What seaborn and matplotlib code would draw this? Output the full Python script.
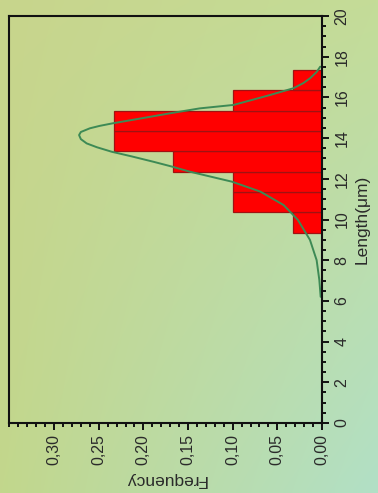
import numpy as np
import pandas as pd
import matplotlib
matplotlib.use("Agg")
import matplotlib.pyplot as plt
from matplotlib.ticker import FixedLocator, MultipleLocator, FixedFormatter
import seaborn as sns

# ---- data ----
bin_edges = [9.35, 10.35, 11.35, 12.35, 13.35, 14.35, 15.35, 16.35, 17.35]
bin_centers = [9.85, 10.85, 11.85, 12.85, 13.85, 14.85, 15.85, 16.85]
bin_freq = [0.033, 0.100, 0.100, 0.167, 0.233, 0.233, 0.100, 0.033]

# fitted curve, points (length, frequency)
curve_len = [6.2, 7.03, 8.0, 9.0, 9.98, 10.35, 10.71, 11.37, 11.6, 11.86, 12.35, 12.6,
             12.84, 13.1, 13.33, 13.55, 13.74, 13.95, 14.15, 14.3, 14.48, 14.6, 14.73,
             14.95, 15.22, 15.46, 15.63, 15.88, 16.12, 16.45, 16.7, 16.94, 17.25, 17.51]
curve_freq = [0.0015, 0.003, 0.006, 0.0135, 0.027, 0.035, 0.043, 0.069, 0.084, 0.101,
              0.148, 0.168, 0.189, 0.213, 0.2355, 0.252, 0.2635, 0.270, 0.272, 0.270,
              0.260, 0.249, 0.234, 0.205, 0.170, 0.137, 0.099, 0.078, 0.058, 0.032,
              0.021, 0.0134, 0.006, 0.002]

freq_ticks = [0.00, 0.05, 0.10, 0.15, 0.20, 0.25, 0.30]
freq_labels = ["0,00", "0,05", "0,10", "0,15", "0,20", "0,25", "0,30"]
len_ticks = [0, 2, 4, 6, 8, 10, 12, 14, 16, 18, 20]
len_labels = ["0", "2", "4", "6", "8", "10", "12", "14", "16", "18", "20"]

hist_df = pd.DataFrame({"length": bin_centers, "freq": bin_freq})
curve_df = pd.DataFrame({"length": curve_len, "freq": curve_freq})

sns.set_style("white")
plt.rcParams["font.family"] = ["Liberation Sans", "DejaVu Sans"]
plt.rcParams["lines.solid_joinstyle"] = "round"

W, H = 378, 493
fig = plt.figure(figsize=(W / 100, H / 100), dpi=100)

# background gradient
bg = fig.add_axes([0, 0, 1, 1], zorder=-10)
tl = np.array([200, 213, 140]) / 255
tr = np.array([196, 220, 152]) / 255
bl = np.array([194, 215, 140]) / 255
br = np.array([178, 224, 198]) / 255
yy, xx = np.mgrid[0:1:100j, 0:1:100j]
img = (tl[None, None, :] * ((1 - xx) * (1 - yy))[..., None]
       + tr[None, None, :] * (xx * (1 - yy))[..., None]
       + bl[None, None, :] * ((1 - xx) * yy)[..., None]
       + br[None, None, :] * (xx * yy)[..., None])
bg.imshow(img, aspect="auto", extent=[0, 1, 0, 1], origin="upper", interpolation="bilinear")
bg.set_axis_off()

ax = fig.add_axes([9.4 / W, (H - 423) / H, (322 - 9.4) / W, (423 - 16) / H])
ax.set_facecolor("none")

sns.histplot(data=hist_df, y="length", weights="freq", bins=bin_edges, stat="count",
             color="#ff0000", alpha=1.0, edgecolor="#a01212", linewidth=0.9, ax=ax)
sns.lineplot(data=curve_df, x="freq", y="length", sort=False, estimator=None,
             orient="y", color="#3d8a55", linewidth=1.4, ax=ax)

ax.set_xlim(0.35, 0.0)
ax.set_ylim(0, 20)

ax.yaxis.tick_right()
ax.yaxis.set_label_position("right")
ax.xaxis.set_major_locator(FixedLocator(freq_ticks))
ax.xaxis.set_major_formatter(FixedFormatter(freq_labels))
ax.xaxis.set_minor_locator(MultipleLocator(0.01))
ax.yaxis.set_major_locator(FixedLocator(len_ticks))
ax.yaxis.set_major_formatter(FixedFormatter(len_labels))
ax.yaxis.set_minor_locator(MultipleLocator(0.5))

ax.tick_params(axis="x", which="both", bottom=True, top=False, direction="out",
               width=1.4, color="#111111")
ax.tick_params(axis="y", which="both", right=True, left=False, direction="out",
               width=1.4, color="#111111")
ax.tick_params(which="major", length=5)
ax.tick_params(which="minor", length=3)
ax.tick_params(axis="x", labelsize=11.5, pad=3, labelcolor="#2a2a2a")
ax.tick_params(axis="y", labelsize=11.5, pad=4, labelcolor="#2a2a2a")
for lab in ax.get_xticklabels():
    lab.set_rotation(90)
    lab.set_ha("center")
    lab.set_va("top")
for lab in ax.get_yticklabels():
    lab.set_rotation(90)
    lab.set_ha("left")
    lab.set_va("center")

for s in ax.spines.values():
    s.set_visible(True)
    s.set_linewidth(1.5)
    s.set_color("#111111")

ax.set_xlabel("Frequency", rotation=180, fontsize=12.5, color="#2a2a2a", labelpad=5)
ax.set_ylabel("Length(μm)", rotation=90, fontsize=12.5, color="#2a2a2a", labelpad=4)

fig.savefig("out.png", dpi=100)
